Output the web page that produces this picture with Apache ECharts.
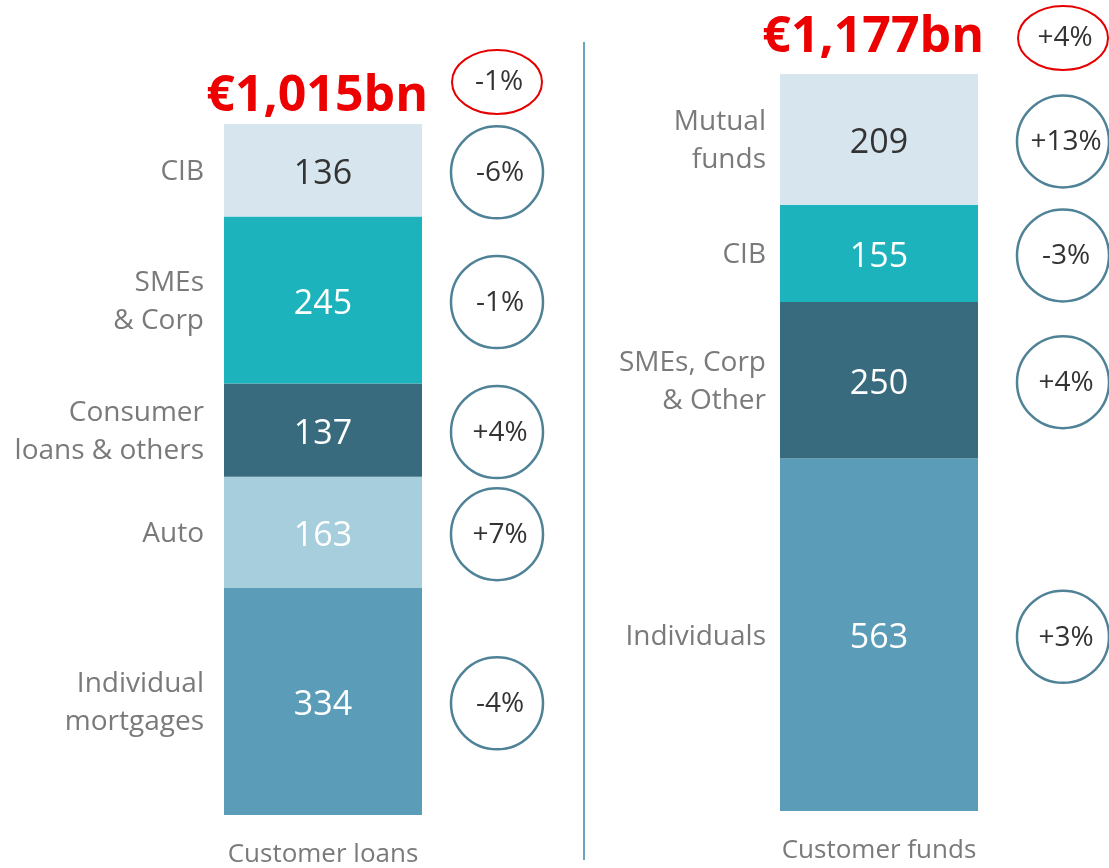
<!DOCTYPE html>
<html>
<head>
<meta charset="utf-8">
<script src="https://cdn.jsdelivr.net/npm/echarts@6/dist/echarts.min.js"></script>
<style>
  html, body { margin: 0; padding: 0; background: #fff; }
  #main { width: 1109px; height: 868px; }
</style>
</head>
<body>
<div id="main"></div>
<script>
// customer loans, bottom to top
var loanNames = ['Individual\nmortgages', 'Auto', 'Consumer\nloans & others', 'SMEs\n& Corp', 'CIB'];
var loanValues = [334, 163, 137, 245, 136];
var loanChange = ['-4%', '+7%', '+4%', '-1%', '-6%'];
var loanTotal = '€1,015bn';
var loanTotalChange = '-1%';

// customer funds, bottom to top
var fundNames = ['Individuals', 'SMEs, Corp\n& Other', 'CIB', 'Mutual\nfunds'];
var fundValues = [563, 250, 155, 209];
var fundChange = ['+3%', '+4%', '-3%', '+13%'];
var fundTotal = '€1,177bn';
var fundTotalChange = '+4%';

var categories = ['Customer loans', 'Customer funds'];

var loanColors = ['#5b9db8', '#a7cedc', '#376b7d', '#1db3bc', '#d7e6ee'];
var loanText = ['#fff', '#fff', '#fff', '#fff', '#333'];
var fundColors = ['#5b9db8', '#376b7d', '#1db3bc', '#d7e6ee'];
var fundText = ['#fff', '#fff', '#fff', '#333'];

var FONT = '"Open Sans", "Noto Sans", sans-serif';

function sum(arr) {
  return arr.reduce(function (a, b) { return a + b; }, 0);
}

function barSeries(values, colors, textColors, idx) {
  return values.map(function (v, i) {
    return {
      type: 'bar',
      stack: 'st' + idx,
      xAxisIndex: idx,
      yAxisIndex: idx,
      barWidth: '100%',
      silent: true,
      data: [v],
      itemStyle: { color: colors[i] },
      label: {
        show: true,
        position: 'inside',
        offset: [0, 4],
        color: textColors[i],
        fontSize: 34,
        fontFamily: FONT
      }
    };
  });
}

// labels on the left, circles on the right, total on top
function annotSeries(idx, values, names, changes, total, totalChange, cfg) {
  var rows = [];
  var acc = 0;
  values.forEach(function (v, i) {
    rows.push([0, acc, acc + v, i]);
    acc += v;
  });
  rows.push([0, acc, acc, -1]);
  return {
    type: 'custom',
    xAxisIndex: idx,
    yAxisIndex: idx,
    silent: true,
    encode: { x: 0, y: 2 },
    data: rows,
    renderItem: function (params, api) {
      var start = api.value(1), end = api.value(2), i = api.value(3);
      var p = api.coord([0, (start + end) / 2]);
      var w = api.size([1, 0])[0];
      var left = p[0] - w / 2, right = p[0] + w / 2;
      var cx = right + cfg.circleDx;
      if (i === -1) {
        return {
          type: 'group',
          children: [
            { type: 'text', style: { text: total, x: right + 6, y: p[1] - cfg.titleDy,
                align: 'right', verticalAlign: 'middle', fill: '#ec0000',
                font: 'bold 50px ' + FONT } },
            { type: 'ellipse', shape: { cx: cx, cy: p[1] - cfg.ellDy, rx: 45, ry: 32 },
              style: { fill: '#fff', stroke: '#e60000', lineWidth: 2 } },
            { type: 'text', style: { text: totalChange, x: cx + 2, y: p[1] - cfg.ellDy,
                align: 'center', verticalAlign: 'middle', fill: '#333',
                font: '28px ' + FONT } }
          ]
        };
      }
      var cy = p[1] + 2;
      return {
        type: 'group',
        children: [
          { type: 'text', style: { text: names[i], x: left - cfg.labelGap, y: p[1] + 2,
              align: 'right', verticalAlign: 'middle', fill: '#7a7a7a',
              font: '28px ' + FONT, lineHeight: 38 } },
          { type: 'circle', shape: { cx: cx, cy: cy, r: 46 },
            style: { fill: '#fff', stroke: '#4f8296', lineWidth: 2.5 } },
          { type: 'text', style: { text: changes[i], x: cx + 3, y: cy + 1,
              align: 'center', verticalAlign: 'middle', fill: '#333',
              font: '28px ' + FONT } }
        ]
      };
    }
  };
}

function xAx(idx, gridIndex) {
  return {
    type: 'category',
    gridIndex: gridIndex,
    data: [categories[idx]],
    axisLine: { show: false },
    axisTick: { show: false },
    axisLabel: { color: '#7a7a7a', fontSize: 26, fontFamily: FONT, margin: 27 }
  };
}

function yAx(gridIndex, max) {
  return {
    type: 'value',
    gridIndex: gridIndex,
    min: 0,
    max: max,
    show: false,
    splitLine: { show: false }
  };
}

var chart = echarts.init(document.getElementById('main'));

var option = {
  animation: false,
  backgroundColor: '#fff',
  grid: [
    { left: 224, width: 198, top: 124, bottom: 52 },
    { left: 780, width: 198, top: 74, bottom: 57 }
  ],
  xAxis: [xAx(0, 0), xAx(1, 1)],
  yAxis: [yAx(0, sum(loanValues)), yAx(1, sum(fundValues))],
  graphic: [{
    type: 'line',
    shape: { x1: 584, y1: 42, x2: 584, y2: 860 },
    style: { stroke: '#6aa3bd', lineWidth: 2 },
    silent: true
  }],
  series: []
    .concat(barSeries(loanValues, loanColors, loanText, 0))
    .concat(barSeries(fundValues, fundColors, fundText, 1))
    .concat([
      annotSeries(0, loanValues, loanNames, loanChange, loanTotal, loanTotalChange,
        { circleDx: 75, labelGap: 20, titleDy: 27, ellDy: 42 }),
      annotSeries(1, fundValues, fundNames, fundChange, fundTotal, fundTotalChange,
        { circleDx: 85, labelGap: 14, titleDy: 36, ellDy: 36 })
    ])
};

chart.setOption(option);
</script>
</body>
</html>
